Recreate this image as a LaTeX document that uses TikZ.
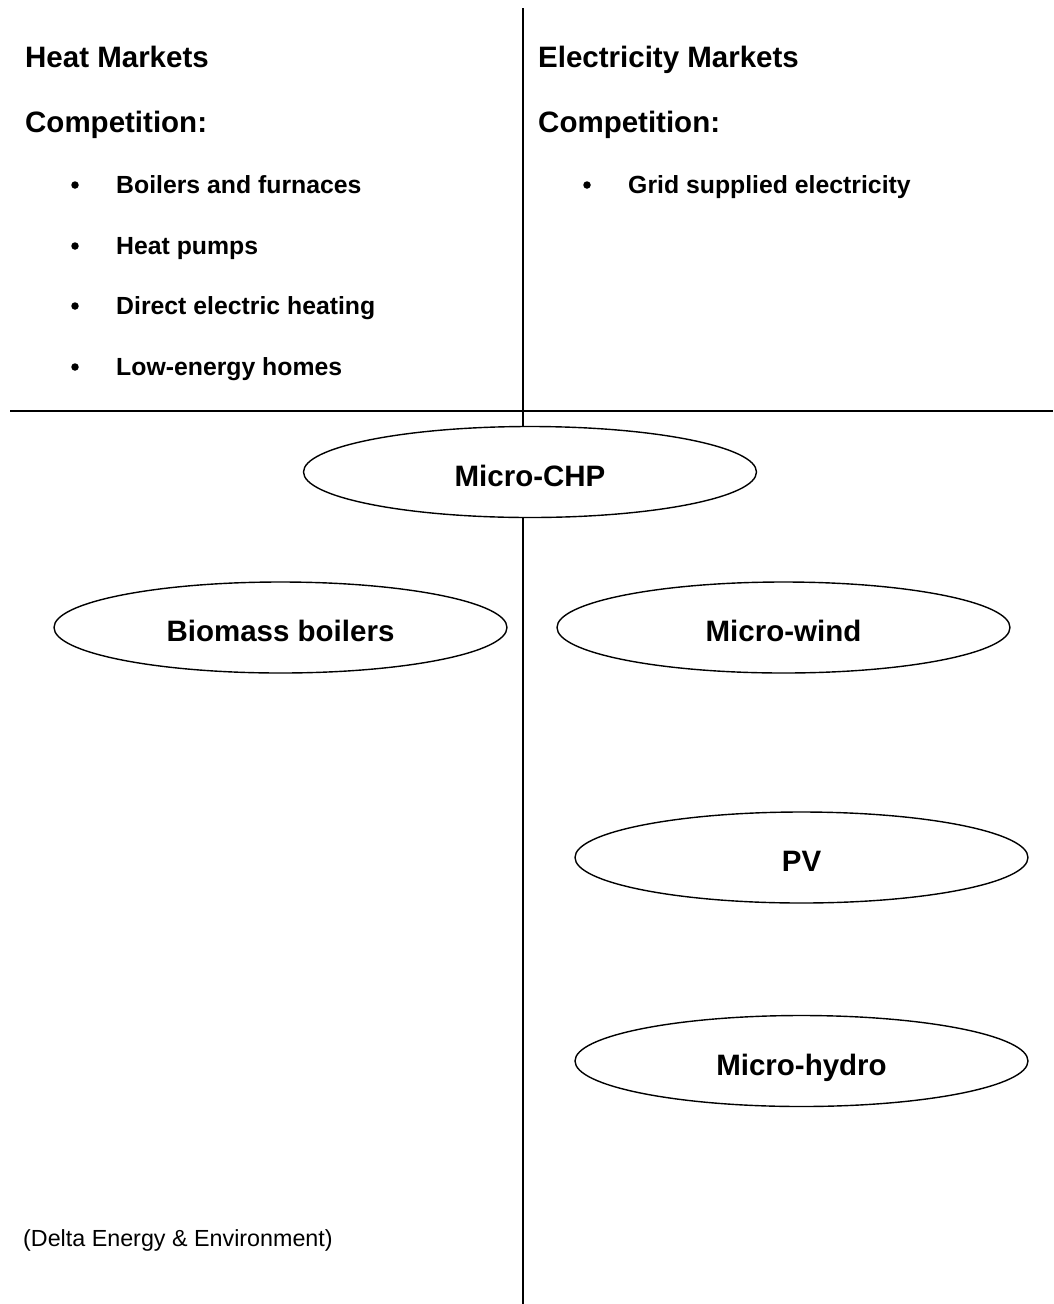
\documentclass[tikz,border=0pt]{standalone}
\usepackage{fontspec}
\setmainfont{Liberation Sans}
\usetikzlibrary{shapes.geometric}
\begin{document}
\begin{tikzpicture}[x=1pt,y=-1pt,
  heading/.style={anchor=base west,inner sep=0pt,font=\fontsize{29.5}{32}\selectfont\bfseries},
  item/.style={anchor=base west,inner sep=0pt,font=\fontsize{24.8}{28}\selectfont\bfseries},
  dot/.style={circle,fill=black,inner sep=0pt,minimum size=7.5pt},
  tech/.style={ellipse,draw,line width=1.4pt,fill=white,minimum width=453pt,minimum height=91pt,inner sep=0pt,text height=36pt,text depth=8pt,font=\fontsize{29.5}{32}\selectfont\bfseries},
  divider/.style={line width=2pt}]
\useasboundingbox (0,0) rectangle (1053,1304);
% dividers
\coordinate (vtop) at (523,8);
\coordinate (vbot) at (523,1304);
\coordinate (hl) at (10,411);
\coordinate (hr) at (1053,411);
% ellipses
\node[tech] (chp) at (530,472) {Micro-CHP};
\node[tech] (bio) at (280.5,627.5) {Biomass boilers};
\node[tech] (wind) at (783.5,627.5) {Micro-wind};
\node[tech] (pv) at (801.5,857.5) {PV};
\node[tech] (hydro) at (801.5,1061) {Micro-hydro};
\draw[divider] (hl) -- (hr);
\draw[divider] (vtop) -- (vtop |- chp.north);
\draw[divider] (vtop |- chp.south) -- (vbot);
% left column
\node[heading] (hm) at (25,67) {Heat Markets};
\node[heading] (hc) at (25,132) {Competition:};
\node[item] (l1) at (116,193) {Boilers and furnaces};
\node[item] (l2) at (116,254) {Heat pumps};
\node[item] (l3) at (116,314) {Direct electric heating};
\node[item] (l4) at (116,375) {Low-energy homes};
\foreach \n in {l1,l2,l3,l4} \node[dot] at ([xshift=-41pt,yshift=8pt]\n.base west) {};
% right column
\node[heading] (em) at (538,67) {Electricity Markets};
\node[heading] (ec) at (538,132) {Competition:};
\node[item] (r1) at (628,193) {Grid supplied electricity};
\node[dot] at ([xshift=-41pt,yshift=8pt]r1.base west) {};
% source
\node[anchor=base west,inner sep=0pt,font=\fontsize{23.3}{26}\selectfont] (src) at (23,1246) {(Delta Energy \& Environment)};
\end{tikzpicture}
\end{document}
